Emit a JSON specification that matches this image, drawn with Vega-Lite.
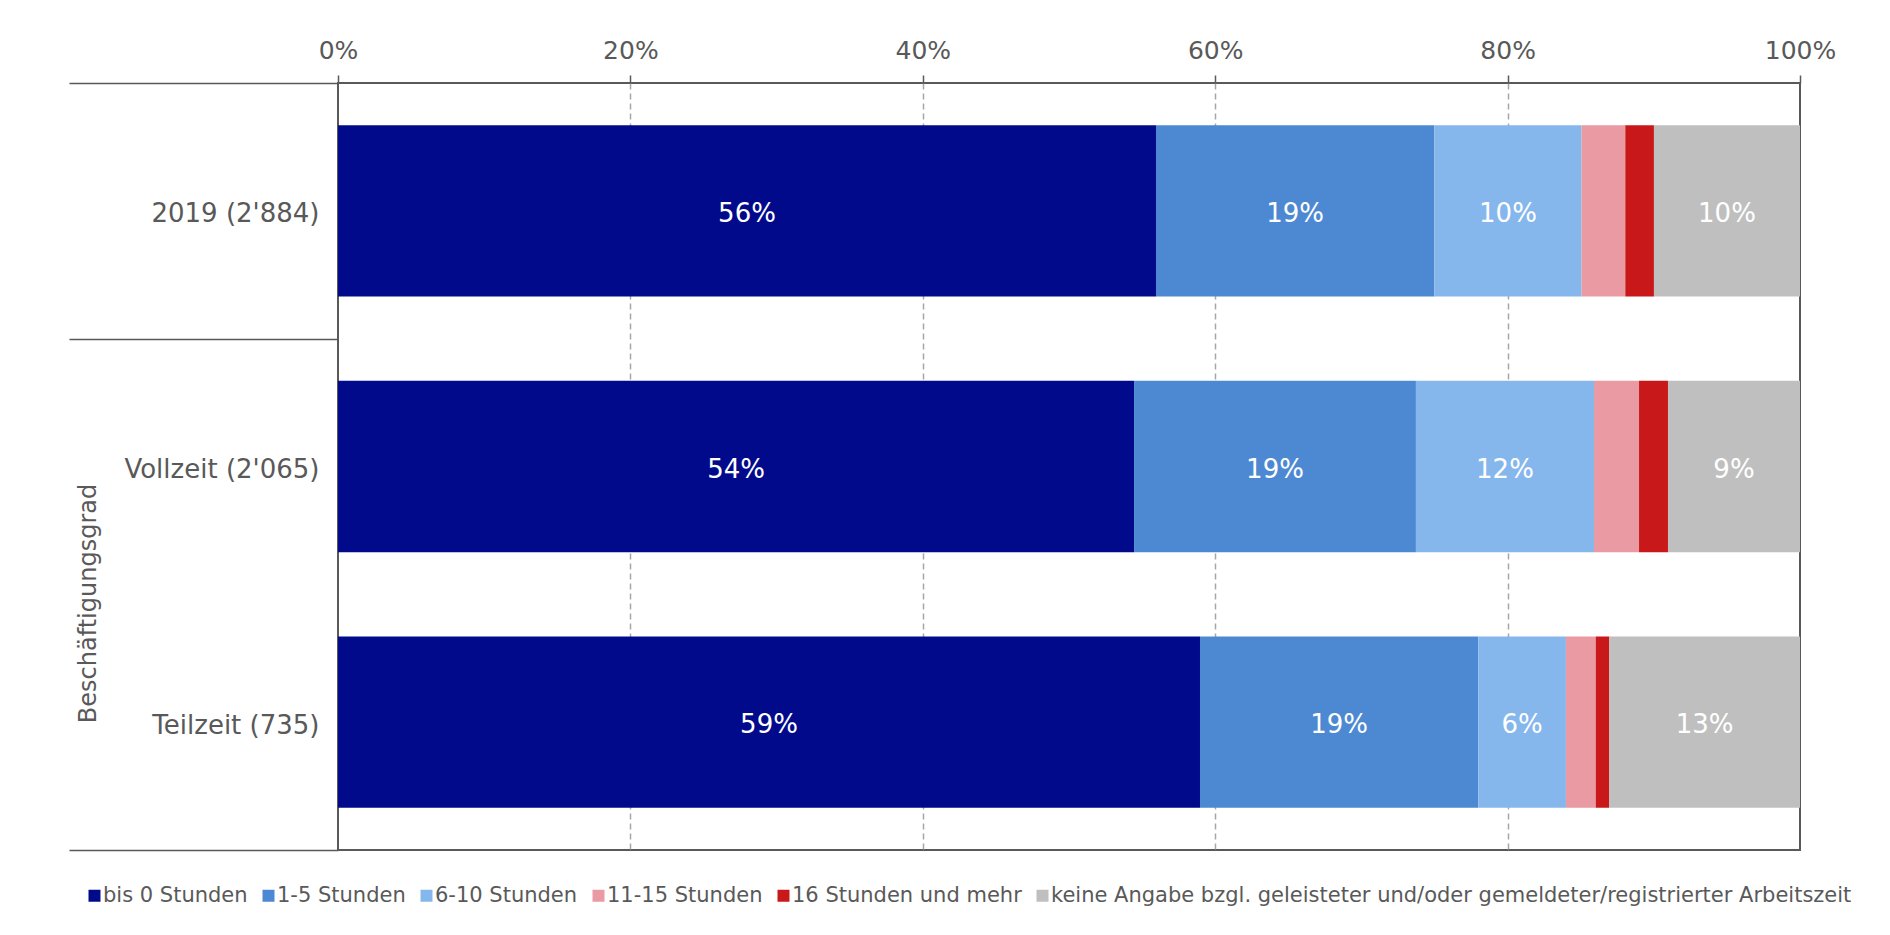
{
  "$schema": "https://vega.github.io/schema/vega-lite/v6.json",
  "width": 1462,
  "height": 767,
  "autosize": {"type": "none"},
  "padding": {"left": 338, "top": 83, "right": 90, "bottom": 85},
  "background": "white",
  "data": {
    "values": [
      {"Gruppe": "2019 (2'884)", "Kategorie": "bis 0 Stunden", "Anteil": 0.5595},
      {"Gruppe": "2019 (2'884)", "Kategorie": "1-5 Stunden", "Anteil": 0.1904},
      {"Gruppe": "2019 (2'884)", "Kategorie": "6-10 Stunden", "Anteil": 0.1007},
      {"Gruppe": "2019 (2'884)", "Kategorie": "11-15 Stunden", "Anteil": 0.0299},
      {"Gruppe": "2019 (2'884)", "Kategorie": "16 Stunden und mehr", "Anteil": 0.0196},
      {"Gruppe": "2019 (2'884)", "Kategorie": "keine Angabe bzgl. geleisteter und/oder gemeldeter/registrierter Arbeitszeit", "Anteil": 0.0999},
      {"Gruppe": "Vollzeit (2'065)", "Kategorie": "bis 0 Stunden", "Anteil": 0.5445},
      {"Gruppe": "Vollzeit (2'065)", "Kategorie": "1-5 Stunden", "Anteil": 0.1928},
      {"Gruppe": "Vollzeit (2'065)", "Kategorie": "6-10 Stunden", "Anteil": 0.1218},
      {"Gruppe": "Vollzeit (2'065)", "Kategorie": "11-15 Stunden", "Anteil": 0.0308},
      {"Gruppe": "Vollzeit (2'065)", "Kategorie": "16 Stunden und mehr", "Anteil": 0.0198},
      {"Gruppe": "Vollzeit (2'065)", "Kategorie": "keine Angabe bzgl. geleisteter und/oder gemeldeter/registrierter Arbeitszeit", "Anteil": 0.0903},
      {"Gruppe": "Teilzeit (735)", "Kategorie": "bis 0 Stunden", "Anteil": 0.5896},
      {"Gruppe": "Teilzeit (735)", "Kategorie": "1-5 Stunden", "Anteil": 0.1904},
      {"Gruppe": "Teilzeit (735)", "Kategorie": "6-10 Stunden", "Anteil": 0.0599},
      {"Gruppe": "Teilzeit (735)", "Kategorie": "11-15 Stunden", "Anteil": 0.0204},
      {"Gruppe": "Teilzeit (735)", "Kategorie": "16 Stunden und mehr", "Anteil": 0.0093},
      {"Gruppe": "Teilzeit (735)", "Kategorie": "keine Angabe bzgl. geleisteter und/oder gemeldeter/registrierter Arbeitszeit", "Anteil": 0.1304}
    ]
  },
  "transform": [
    {"window": [{"op": "row_number", "as": "rang"}], "groupby": ["Gruppe"]},
    {"stack": "Anteil", "groupby": ["Gruppe"], "sort": [{"field": "rang", "order": "ascending"}], "as": ["x0", "x1"]}
  ],
  "encoding": {
    "y": {
      "field": "Gruppe",
      "type": "nominal",
      "sort": ["2019 (2'884)", "Vollzeit (2'065)", "Teilzeit (735)"],
      "scale": {"paddingInner": 0, "paddingOuter": 0},
      "axis": {
        "title": "Beschäftigungsgrad",
        "domain": false,
        "grid": false,
        "ticks": true,
        "tickBand": "extent",
        "tickSize": 269,
        "tickColor": "#595959",
        "tickWidth": 1.5,
        "tickOpacity": {"condition": {"test": "datum.value === \"Vollzeit (2'065)\"", "value": 0}, "value": 1},
        "labelPadding": -250,
        "labelOffset": 3,
        "labelLimit": 400,
        "labelFontSize": 26,
        "labelColor": "#595959",
        "titleFontSize": 24,
        "titleFontWeight": "normal",
        "titleColor": "#595959",
        "titleX": -238,
        "titleY": 520
      }
    }
  },
  "layer": [
    {
      "mark": {"type": "bar", "height": {"band": 0.67}},
      "encoding": {
        "x": {
          "field": "x0",
          "type": "quantitative",
          "title": null,
          "scale": {"domain": [0, 1], "nice": false},
          "axis": {
            "orient": "top",
            "format": ".0%",
            "values": [0, 0.2, 0.4, 0.6, 0.8, 1],
            "domain": false,
            "ticks": true,
            "tickSize": 8,
            "tickColor": "#595959",
            "tickWidth": 1.5,
            "grid": true,
            "gridColor": "#a6a6a6",
            "gridDash": [6, 4],
            "gridWidth": 1.5,
            "gridOpacity": {"condition": {"test": "datum.value === 0 || datum.value === 1", "value": 0}, "value": 1},
            "labelFontSize": 25,
            "labelColor": "#595959",
            "labelPadding": 12,
            "labelFlush": false,
            "labelOverlap": false
          }
        },
        "x2": {"field": "x1"},
        "color": {
          "field": "Kategorie",
          "type": "nominal",
          "scale": {
            "domain": ["bis 0 Stunden", "1-5 Stunden", "6-10 Stunden", "11-15 Stunden", "16 Stunden und mehr", "keine Angabe bzgl. geleisteter und/oder gemeldeter/registrierter Arbeitszeit"],
            "range": ["#020A8C", "#4D89D2", "#86B7EC", "#E99AA3", "#C8181A", "#BFBFBF"]
          },
          "legend": {
            "orient": "none",
            "legendX": -254,
            "legendY": 802,
            "direction": "horizontal",
            "columns": 6,
            "title": null,
            "symbolType": "square",
            "symbolSize": 144,
            "symbolStrokeWidth": 0,
            "symbolOpacity": 1,
            "labelFontSize": 21,
            "labelColor": "#595959",
            "labelLimit": 1200,
            "columnPadding": 10,
            "labelOffset": -2,
            "padding": 0
          }
        }
      }
    },
    {
      "transform": [
        {"filter": "datum.Anteil >= 0.04"},
        {"fold": ["x0", "x1"], "as": ["ende", "pos"]}
      ],
      "mark": {"type": "text", "color": "white", "fontSize": 26, "baseline": "middle", "align": "center", "dy": 3},
      "encoding": {
        "x": {"aggregate": "mean", "field": "pos", "type": "quantitative", "title": null},
        "detail": {"field": "Kategorie", "type": "nominal"},
        "text": {"field": "Anteil", "type": "quantitative", "format": ".0%"}
      }
    }
  ],
  "config": {
    "font": "DejaVu Sans",
    "view": {"stroke": "#595959", "strokeWidth": 2}
  }
}
